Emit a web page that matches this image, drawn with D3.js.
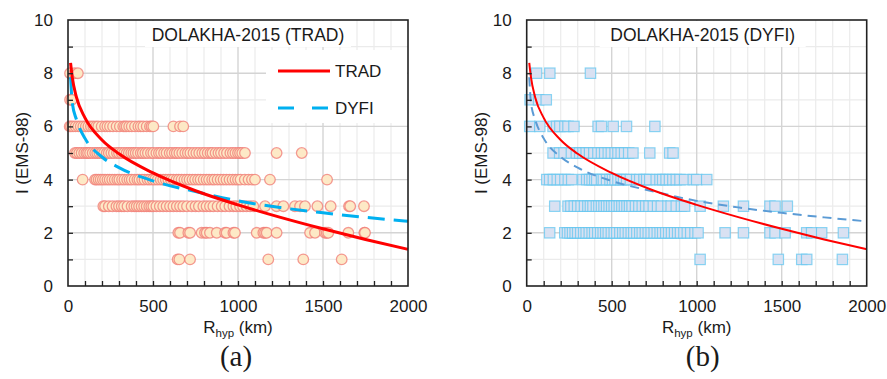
<!DOCTYPE html>
<html>
<head>
<meta charset="utf-8">
<script src="https://cdn.jsdelivr.net/npm/d3@7"></script>
<style>
  body { margin: 0; background: #fff; }
  text { font-family: "Liberation Sans", Arial, sans-serif; fill: #1a1a1a; }
</style>
</head>
<body>
<div id="chart"></div>
<script>
// intensity levels of the observation rows
const intensities = [8, 7, 6, 5, 4, 3, 2, 1];

// (a) TRAD observations: hypocentral distances (km) for each intensity row
const tradR = [
  [12, 38, 58],
  [12, 22],
  [10, 18, 30, 45, 61, 75, 90, 105, 120, 135, 149, 165, 178, 198, 218, 232, 247, 265, 286, 305, 325, 335, 345, 360, 375, 394, 414, 428, 443, 463, 482, 492, 502, 620, 659, 678],
  [41, 52, 66, 80, 95, 108, 118, 130, 145, 160, 172, 185, 198, 212, 228, 240, 255, 270, 288, 300, 315, 330, 345, 358, 372, 385, 398, 412, 428, 440, 455, 470, 488, 502, 520, 535, 548, 565, 580, 598, 612, 628, 640, 655, 672, 690, 705, 720, 738, 755, 772, 790, 805, 822, 838, 850, 868, 885, 900, 918, 935, 955, 970, 985, 1000, 1012, 1025, 1041, 1227, 1375],
  [86, 159, 168, 180, 192, 205, 218, 232, 245, 260, 275, 290, 302, 318, 332, 348, 362, 375, 392, 408, 420, 436, 450, 468, 482, 498, 512, 528, 545, 560, 575, 590, 605, 620, 638, 652, 668, 685, 700, 715, 732, 748, 765, 780, 798, 815, 830, 848, 862, 880, 898, 915, 932, 950, 968, 985, 1000, 1015, 1040, 1062, 1082, 1100, 1188, 1524],
  [208, 218, 240, 262, 285, 300, 316, 330, 350, 374, 390, 404, 418, 433, 448, 463, 478, 490, 502, 520, 540, 560, 580, 600, 620, 640, 659, 678, 700, 727, 750, 770, 796, 815, 835, 855, 880, 904, 925, 950, 973, 990, 1012, 1030, 1050, 1071, 1090, 1159, 1227, 1267, 1335, 1365, 1394, 1467, 1545, 1653, 1660, 1741],
  [649, 659, 708, 718, 786, 806, 816, 835, 875, 924, 933, 973, 982, 1110, 1149, 1159, 1169, 1227, 1424, 1453, 1512, 1522, 1531, 1649, 1743, 1747],
  [645, 655, 718, 1178, 1384, 1610]
];

// (b) DYFI observations
const dyfiR = [
  [58, 136, 375],
  [20, 70, 115],
  [18, 77, 155, 176, 195, 225, 243, 278, 420, 440, 509, 587, 754],
  [155, 194, 220, 263, 292, 312, 331, 350, 370, 395, 419, 440, 459, 480, 498, 520, 537, 556, 576, 600, 625, 724, 841, 861],
  [118, 135, 157, 180, 200, 225, 245, 265, 331, 353, 370, 385, 400, 412, 440, 451, 470, 490, 505, 520, 537, 555, 570, 588, 610, 647, 665, 690, 706, 724, 762, 784, 800, 820, 840, 860, 880, 902, 929, 980, 1000, 1059],
  [165, 243, 260, 280, 300, 320, 340, 360, 375, 390, 410, 425, 440, 455, 470, 485, 500, 515, 530, 545, 560, 575, 590, 605, 620, 640, 660, 680, 700, 720, 745, 770, 792, 831, 850, 880, 910, 929, 1020, 1157, 1275, 1431, 1461, 1533],
  [135, 224, 240, 255, 270, 285, 300, 318, 335, 350, 368, 385, 400, 418, 435, 450, 465, 480, 498, 515, 530, 548, 565, 580, 598, 615, 630, 648, 665, 680, 698, 715, 732, 750, 768, 785, 800, 818, 835, 852, 870, 888, 905, 925, 945, 965, 990, 1008, 1167, 1275, 1431, 1461, 1520, 1647, 1676, 1735, 1863],
  [1020, 1480, 1618, 1647, 1857]
];

// attenuation curves
const curveR = [15, 25, 50, 100, 200, 300, 500, 750, 1000, 1250, 1500, 1750, 2000];
const tradCurveI = [8.39, 7.85, 7.09, 6.32, 5.49, 4.97, 4.25, 3.58, 3.05, 2.58, 2.15, 1.75, 1.38];
const dyfiCurveI = [7.85, 6.9, 6.25, 5.55, 4.85, 4.45, 3.95, 3.55, 3.2, 2.95, 2.75, 2.58, 2.43];

const xTicks = [0, 500, 1000, 1500, 2000];
const yTicks = [0, 2, 4, 6, 8, 10];
const titles = ["DOLAKHA-2015 (TRAD)", "DOLAKHA-2015 (DYFI)"];
const legendLabels = ["TRAD", "DYFI"];
const panelTags = ["(a)", "(b)"];

const svg = d3.select("#chart").append("svg")
  .attr("width", 887)
  .attr("height", 379);

const plotTop = 20, plotBottom = 286;
const y = d3.scaleLinear().domain([0, 10]).range([plotBottom, plotTop]);

function drawPanel(left, right, obs, kind, idx) {
  const x = d3.scaleLinear().domain([0, 2000]).range([left, right]);
  const g = svg.append("g");

  // grid
  const minorX = d3.range(100, 2000, 100).filter(d => d % 500 != 0);
  const minorY = d3.range(1, 10, 1).filter(d => d % 2 != 0);
  g.selectAll(".gxm").data(minorX).enter().append("line")
    .attr("x1", d => x(d)).attr("x2", d => x(d)).attr("y1", plotTop).attr("y2", plotBottom)
    .attr("stroke", "#ebebeb").attr("stroke-width", 1.2);
  g.selectAll(".gym").data(minorY).enter().append("line")
    .attr("x1", left).attr("x2", right).attr("y1", d => y(d)).attr("y2", d => y(d))
    .attr("stroke", "#ebebeb").attr("stroke-width", 1.2);
  g.selectAll(".gx").data(xTicks.slice(1, -1)).enter().append("line")
    .attr("x1", d => x(d)).attr("x2", d => x(d)).attr("y1", plotTop).attr("y2", plotBottom)
    .attr("stroke", "#d4d4d4").attr("stroke-width", 1.4);
  g.selectAll(".gy").data(yTicks.slice(1, -1)).enter().append("line")
    .attr("x1", left).attr("x2", right).attr("y1", d => y(d)).attr("y2", d => y(d))
    .attr("stroke", "#d4d4d4").attr("stroke-width", 1.4);

  // title box
  const tx = (left + right) / 2 + (idx ? 6 : 10);
  g.append("rect").attr("x", tx - 103).attr("y", plotTop + 1)
    .attr("width", 206).attr("height", 26).attr("fill", "#fff");
  g.append("text").attr("x", tx).attr("y", 41)
    .attr("text-anchor", "middle").style("font-size", "17.5px").text(titles[idx]);

  // observations
  const pts = [];
  intensities.forEach((lev, i) => obs[i].forEach(r => pts.push({ r: r, i: lev })));
  const mk = g.append("g");
  if (kind == "circle") {
    mk.selectAll("circle").data(pts).enter().append("circle")
      .attr("cx", d => x(d.r)).attr("cy", d => y(d.i)).attr("r", 5.3)
      .attr("fill", "#fde9c6").attr("stroke", "#f07a74").attr("stroke-opacity", 0.75)
      .attr("stroke-width", 1.3);
  } else {
    mk.selectAll("rect").data(pts).enter().append("rect")
      .attr("x", d => x(d.r) - 5.2).attr("y", d => y(d.i) - 5.2)
      .attr("width", 10.4).attr("height", 10.4)
      .attr("fill", "#d9e1f2").attr("stroke", "#5cc4f0").attr("stroke-opacity", 0.7)
      .attr("stroke-width", 1.2);
  }

  // curves
  const line = (vals) => d3.line()
    .x((d, k) => x(curveR[k])).y(d => y(d))
    .curve(d3.curveMonotoneX)(vals);
  const thick = idx == 0;
  g.append("path").attr("d", line(dyfiCurveI)).attr("fill", "none")
    .attr("stroke", thick ? "#00b0f0" : "#5b9bd5").attr("stroke-width", thick ? 3 : 2)
    .attr("stroke-dasharray", thick ? "17,9" : "9,6");
  g.append("path").attr("d", line(tradCurveI)).attr("fill", "none")
    .attr("stroke", "#ff0000").attr("stroke-width", thick ? 3 : 2);

  // legend (panel a only)
  if (thick) {
    g.append("rect").attr("x", 266).attr("y", 50).attr("width", right - 267).attr("height", 73)
      .attr("fill", "#fff");
    g.append("line").attr("x1", 278).attr("x2", 330).attr("y1", 71).attr("y2", 71)
      .attr("stroke", "#ff0000").attr("stroke-width", 3);
    g.append("line").attr("x1", 278).attr("x2", 330).attr("y1", 108).attr("y2", 108)
      .attr("stroke", "#00b0f0").attr("stroke-width", 3).attr("stroke-dasharray", "16,18");
    g.append("text").attr("x", 335).attr("y", 77).style("font-size", "17px").text(legendLabels[0]);
    g.append("text").attr("x", 335).attr("y", 114).style("font-size", "17px").text(legendLabels[1]);
  }

  // ticks (inside) and border
  g.append("g").attr("transform", `translate(0,${plotBottom})`)
    .call(d3.axisBottom(x).tickValues(d3.range(100, 2000, 100)).tickSize(-5).tickFormat(""))
    .call(a => a.select(".domain").remove())
    .call(a => a.selectAll("line").attr("stroke", "#222").attr("stroke-width", 1.3));
  g.append("g").attr("transform", `translate(${left},0)`)
    .call(d3.axisLeft(y).tickValues(d3.range(1, 10, 1)).tickSize(-5).tickFormat(""))
    .call(a => a.select(".domain").remove())
    .call(a => a.selectAll("line").attr("stroke", "#222").attr("stroke-width", 1.3));
  g.append("rect").attr("x", left).attr("y", plotTop).attr("width", right - left)
    .attr("height", plotBottom - plotTop).attr("fill", "none").attr("stroke", "#222").attr("stroke-width", 1.6);

  // tick labels
  g.append("g").attr("transform", `translate(0,${plotBottom})`)
    .call(d3.axisBottom(x).tickValues(xTicks).tickSize(0).tickPadding(14).tickFormat(d3.format("d")))
    .call(a => a.select(".domain").remove())
    .call(a => a.selectAll("text").style("font-size", "17px")
      .style("font-family", "Liberation Sans, Arial, sans-serif").attr("fill", "#1a1a1a"));
  g.append("g").attr("transform", `translate(${left},0)`)
    .call(d3.axisLeft(y).tickValues(yTicks).tickSize(0).tickPadding(15))
    .call(a => a.select(".domain").remove())
    .call(a => a.selectAll("text").style("font-size", "17px")
      .style("font-family", "Liberation Sans, Arial, sans-serif").attr("fill", "#1a1a1a"));

  // axis titles
  const xl = g.append("text").attr("x", (left + right) / 2).attr("y", 333)
    .attr("text-anchor", "middle").style("font-size", "17px");
  xl.append("tspan").text("R");
  xl.append("tspan").attr("dy", 4).style("font-size", "11.5px").text("hyp");
  xl.append("tspan").attr("dy", -4).text(" (km)");

  g.append("text").attr("transform", `translate(${left - 40},${(plotTop + plotBottom) / 2}) rotate(-90)`)
    .attr("text-anchor", "middle").style("font-size", "17px").text("I (EMS-98)");

  g.append("text").attr("x", (left + right) / 2 + (idx ? 6 : -2)).attr("y", 366)
    .attr("text-anchor", "middle")
    .style("font-family", "Liberation Serif, Times New Roman, serif")
    .style("font-size", "29px").text(panelTags[idx]);
}

drawPanel(68, 408, tradR, "circle", 0);
drawPanel(526.7, 866.7, dyfiR, "square", 1);
</script>
</body>
</html>
